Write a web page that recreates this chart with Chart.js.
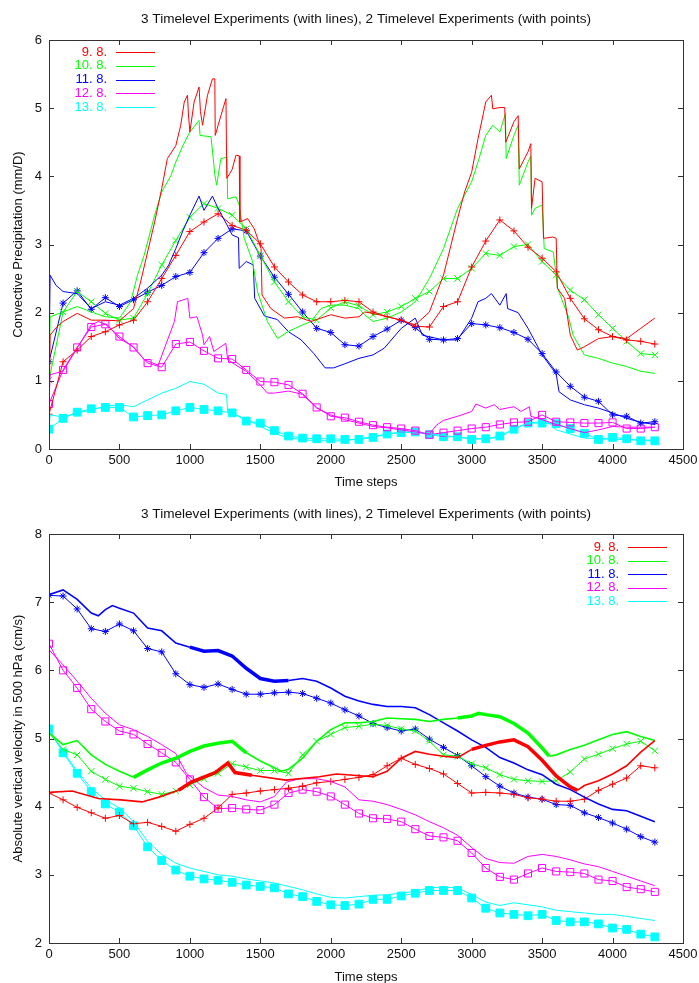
<!DOCTYPE html>
<html>
<head>
<meta charset="utf-8">
<script src="https://cdn.jsdelivr.net/npm/chart.js@4.4.1/dist/chart.umd.min.js"></script>
<style>
html,body{margin:0;padding:0;background:#fff;}
canvas{display:block;}
</style>
</head>
<body>
<canvas id="precip_chart" width="699" height="491"></canvas>
<canvas id="omega_chart" width="699" height="492"></canvas>
<script>
// ---- labels / ticks
var seriesLabels = ['9. 8.', '10. 8.', '11. 8.', '12. 8.', '13. 8.'];
var seriesColors = ['#ff0000', '#00ff00', '#0000ff', '#ff00ff', '#00ffff'];
var xTicks = [0, 500, 1000, 1500, 2000, 2500, 3000, 3500, 4000, 4500];
var yTicksTop = [0, 1, 2, 3, 4, 5, 6];
var yTicksBottom = [2, 3, 4, 5, 6, 7, 8];

// time steps of the 2 timelevel runs (one marker every 100 steps)
var steps = [0,100,200,300,400,500,600,700,800,900,1000,1100,1200,1300,1400,1500,1600,1700,1800,1900,2000,2100,
             2200,2300,2400,2500,2600,2700,2800,2900,3000,3100,3200,3300,3400,3500,3600,3700,3800,3900,4000,4100,4200,4300];

// ---- TOP: convective precipitation, 3 timelevel runs [step, value]
var red3Top = [[0,0.51],[8,1.67],[50,1.78],[100,1.87],[200,1.99],[300,1.89],[400,1.89],[500,1.88],[600,2.06],[650,2.45],[700,2.89],[750,3.33],[800,3.82],[840,4.26],[900,4.45],[935,4.75],[960,5.09],[983,5.19],[990,4.9],[1000,4.65],[1030,5.09],[1065,5.31],[1075,4.95],[1090,4.75],[1125,5.19],[1160,5.43],[1177,5.43],[1180,4.6],[1220,4.89],[1256,5.14],[1262,3.97],[1300,4.1],[1327,4.31],[1350,4.3],[1355,3.33],[1410,3.38],[1457,3.23],[1505,2.94],[1512,2.26],[1575,2.06],[1670,1.92],[1765,1.94],[1860,1.87],[2000,1.97],[2100,1.92],[2200,1.94],[2240,2.01],[2300,1.99],[2400,1.94],[2500,1.89],[2600,1.82],[2700,2.01],[2800,2.55],[2900,3.38],[2950,3.77],[3000,4.06],[3045,4.55],[3100,5.09],[3140,5.19],[3150,4.99],[3200,5.01],[3235,5.01],[3242,4.5],[3300,4.8],[3330,4.89],[3338,4.11],[3400,4.36],[3420,4.48],[3425,3.53],[3450,3.97],[3500,3.92],[3510,3.09],[3575,3.11],[3600,3.09],[3608,2.36],[3660,2.21],[3700,1.67],[3750,1.45],[3800,1.5],[3900,1.62],[4000,1.65],[4100,1.62],[4200,1.77],[4300,1.92]];
var green3Top = [[0,1.01],[8,1.94],[100,2.01],[200,2.09],[300,2.01],[400,1.94],[500,1.92],[580,2.16],[628,2.55],[675,2.84],[750,3.43],[800,3.77],[865,4.01],[900,4.21],[950,4.45],[1000,4.65],[1065,4.82],[1072,4.6],[1150,4.58],[1178,4.01],[1190,3.87],[1220,4.26],[1263,4.28],[1268,3.67],[1327,3.7],[1350,3.58],[1386,3.09],[1445,2.75],[1480,2.31],[1550,1.87],[1623,1.62],[1695,1.72],[1800,1.82],[1860,1.87],[1930,2.06],[2000,2.11],[2100,2.11],[2200,2.06],[2240,1.97],[2300,1.87],[2400,1.92],[2500,2.01],[2600,2.16],[2700,2.5],[2800,2.94],[2900,3.53],[3000,3.92],[3045,4.21],[3100,4.6],[3150,4.75],[3200,4.65],[3240,4.92],[3245,4.26],[3300,4.6],[3330,4.75],[3338,3.87],[3400,4.21],[3420,4.3],[3425,3.43],[3450,3.53],[3500,3.58],[3515,2.94],[3580,2.89],[3610,2.36],[3690,1.92],[3720,1.67],[3800,1.38],[3900,1.33],[4000,1.26],[4100,1.21],[4200,1.14],[4300,1.11]];
var blue3Top = [[0,1.28],[8,2.55],[50,2.4],[100,2.31],[200,2.28],[300,2.06],[400,2.16],[500,2.11],[600,2.21],[700,2.36],[800,2.55],[850,2.7],[900,2.94],[950,3.2],[1000,3.43],[1065,3.71],[1100,3.5],[1160,3.71],[1200,3.53],[1260,3.3],[1300,3.14],[1345,3.1],[1350,2.65],[1400,2.75],[1450,2.7],[1460,2.21],[1530,1.95],[1620,1.9],[1700,1.72],[1790,1.6],[1880,1.4],[1960,1.19],[2020,1.19],[2100,1.25],[2200,1.33],[2300,1.38],[2380,1.48],[2500,1.77],[2600,1.92],[2650,1.67],[2800,1.6],[2900,1.6],[3000,1.92],[3045,2.16],[3100,2.21],[3140,2.28],[3200,2.11],[3245,2.28],[3255,2.06],[3330,2.0],[3400,1.77],[3500,1.38],[3600,1.1],[3620,0.84],[3700,0.72],[3800,0.65],[3900,0.6],[4000,0.53],[4100,0.45],[4200,0.39],[4300,0.36]];
var magenta3Top = [[0,0.66],[8,1.09],[100,1.14],[200,1.48],[300,1.82],[350,1.87],[415,1.82],[500,1.62],[600,1.5],[675,1.31],[775,1.23],[820,1.48],[890,1.87],[912,2.16],[985,2.21],[1000,1.92],[1050,1.94],[1090,1.67],[1100,1.53],[1140,1.65],[1170,1.43],[1255,1.55],[1268,1.31],[1350,1.2],[1400,1.14],[1500,0.94],[1550,0.82],[1600,0.82],[1700,0.85],[1800,0.8],[1900,0.6],[2000,0.5],[2100,0.43],[2200,0.38],[2300,0.33],[2400,0.31],[2500,0.28],[2600,0.25],[2700,0.22],[2750,0.35],[2800,0.42],[2900,0.48],[3000,0.55],[3030,0.66],[3100,0.6],[3160,0.65],[3200,0.58],[3300,0.62],[3350,0.55],[3410,0.62],[3420,0.48],[3500,0.43],[3600,0.36],[3700,0.3],[3800,0.24],[3900,0.28],[4000,0.33],[4100,0.32],[4200,0.32],[4300,0.32]];
var cyan3Top = [[0,0.29],[8,0.5],[100,0.47],[200,0.53],[300,0.57],[400,0.63],[500,0.65],[600,0.62],[700,0.72],[800,0.82],[900,0.89],[1000,0.99],[1100,0.95],[1200,0.82],[1260,0.8],[1268,0.55],[1400,0.44],[1500,0.33],[1600,0.23],[1700,0.16],[1800,0.14],[1900,0.12],[2000,0.12],[2100,0.12],[2200,0.15],[2300,0.18],[2400,0.22],[2500,0.25],[2600,0.25],[2700,0.22],[2800,0.2],[2900,0.17],[3000,0.16],[3100,0.15],[3200,0.17],[3300,0.3],[3400,0.38],[3500,0.4],[3550,0.38],[3600,0.28],[3700,0.22],[3800,0.16],[3900,0.15],[4000,0.14],[4100,0.14],[4200,0.13],[4300,0.13]];

// ---- TOP: 2 timelevel runs (values at steps[])
var red2Top = [0.51,1.28,1.45,1.65,1.72,1.82,1.89,2.16,2.50,2.84,3.19,3.33,3.45,3.28,3.21,3.01,2.67,2.45,2.26,2.16,2.16,2.18,2.16,2.01,1.94,1.89,1.80,1.79,2.09,2.16,2.67,3.05,3.36,3.20,2.96,2.80,2.60,2.21,1.91,1.75,1.65,1.60,1.58,1.54];
var green2Top = [1.01,2.01,2.31,2.16,1.99,1.89,1.92,2.28,2.70,3.06,3.40,3.60,3.53,3.43,3.23,2.84,2.45,2.16,1.94,1.89,2.07,2.16,2.10,1.97,2.01,2.09,2.21,2.31,2.50,2.50,2.65,2.87,2.84,2.97,3.00,2.75,2.55,2.33,2.19,1.97,1.77,1.58,1.40,1.38];
var blue2Top = [1.28,2.14,2.32,2.05,2.22,2.09,2.19,2.30,2.40,2.53,2.59,2.88,3.09,3.23,3.20,2.83,2.52,2.27,2.01,1.77,1.71,1.53,1.51,1.65,1.76,1.89,1.78,1.61,1.60,1.62,1.84,1.82,1.78,1.71,1.61,1.40,1.13,0.92,0.76,0.70,0.50,0.48,0.38,0.40];
var magenta2Top = [0.66,1.16,1.49,1.79,1.83,1.65,1.49,1.26,1.20,1.54,1.57,1.44,1.33,1.32,1.16,0.99,0.98,0.94,0.81,0.61,0.48,0.46,0.40,0.35,0.32,0.30,0.27,0.21,0.24,0.27,0.30,0.32,0.36,0.39,0.40,0.50,0.40,0.39,0.38,0.38,0.39,0.30,0.30,0.32];
var cyan2Top = [0.29,0.45,0.54,0.59,0.61,0.61,0.47,0.49,0.50,0.56,0.61,0.58,0.56,0.53,0.41,0.38,0.27,0.19,0.16,0.15,0.15,0.14,0.14,0.17,0.22,0.24,0.25,0.21,0.18,0.18,0.14,0.15,0.19,0.29,0.38,0.38,0.37,0.30,0.23,0.14,0.17,0.15,0.12,0.12];

// ---- BOTTOM: absolute vertical velocity, 3 timelevel runs [step, value]
var red3Bot = [[0,4.21],[165,4.23],[350,4.12],[510,4.1],[660,4.07],[780,4.14],[920,4.24],[1010,4.36],[1180,4.5],[1270,4.64],[1320,4.5],[1440,4.46],[1680,4.39],[1920,4.44],[2040,4.48],[2160,4.46],[2300,4.44],[2400,4.52],[2500,4.71],[2600,4.81],[2700,4.77],[2800,4.74],[2900,4.72],[3000,4.84],[3100,4.9],[3200,4.95],[3300,4.98],[3400,4.88],[3500,4.68],[3600,4.45],[3700,4.29],[3750,4.24],[3800,4.31],[3900,4.38],[4000,4.48],[4100,4.6],[4200,4.8],[4300,4.97]];
var green3Bot = [[0,5.08],[100,4.91],[200,4.97],[300,4.76],[400,4.62],[500,4.52],[600,4.43],[700,4.54],[800,4.64],[900,4.71],[1000,4.81],[1100,4.89],[1200,4.93],[1300,4.96],[1400,4.79],[1500,4.67],[1600,4.57],[1650,4.52],[1700,4.55],[1800,4.71],[1900,4.96],[2000,5.13],[2100,5.23],[2200,5.23],[2300,5.25],[2400,5.3],[2500,5.29],[2600,5.28],[2700,5.25],[2800,5.28],[2900,5.3],[3000,5.33],[3050,5.37],[3100,5.35],[3200,5.32],[3300,5.22],[3400,5.08],[3500,4.86],[3550,4.74],[3600,4.76],[3700,4.84],[3800,4.9],[3900,4.98],[4000,5.06],[4100,5.1],[4200,5.03],[4300,4.97]];
var blue3Bot = [[0,7.11],[100,7.18],[200,7.04],[300,6.84],[350,6.8],[400,6.89],[450,6.95],[500,6.91],[600,6.84],[700,6.62],[800,6.58],[900,6.4],[1000,6.34],[1100,6.28],[1200,6.29],[1300,6.21],[1400,6.03],[1500,5.88],[1600,5.84],[1700,5.85],[1800,5.88],[1900,5.84],[2000,5.74],[2100,5.62],[2200,5.55],[2300,5.5],[2400,5.47],[2500,5.47],[2600,5.45],[2700,5.35],[2800,5.23],[2900,5.11],[3000,4.98],[3100,4.87],[3200,4.72],[3300,4.64],[3400,4.54],[3500,4.47],[3600,4.33],[3700,4.25],[3800,4.14],[3900,4.04],[4000,3.96],[4100,3.94],[4200,3.86],[4300,3.78]];
var magenta3Bot = [[0,6.3],[100,6.08],[200,5.84],[300,5.59],[400,5.37],[500,5.2],[600,5.13],[700,5.03],[800,4.91],[900,4.78],[975,4.49],[1100,4.28],[1200,4.17],[1300,4.15],[1400,4.1],[1500,4.07],[1600,4.15],[1685,4.36],[1780,4.41],[1900,4.41],[2000,4.37],[2100,4.29],[2200,4.1],[2300,4.08],[2400,4.03],[2500,3.96],[2600,3.88],[2700,3.78],[2800,3.69],[2900,3.58],[3000,3.4],[3100,3.24],[3200,3.18],[3300,3.17],[3400,3.27],[3500,3.3],[3600,3.27],[3700,3.22],[3800,3.16],[3900,3.12],[4000,3.05],[4100,2.98],[4200,2.91],[4300,2.84]];
var cyan3Bot = [[0,5.14],[100,4.81],[200,4.52],[300,4.27],[400,4.1],[500,3.98],[600,3.78],[700,3.49],[800,3.3],[900,3.17],[1000,3.1],[1100,3.05],[1200,3.0],[1300,2.98],[1400,2.94],[1500,2.91],[1600,2.88],[1700,2.83],[1800,2.78],[1900,2.72],[2000,2.67],[2100,2.66],[2200,2.68],[2300,2.7],[2400,2.71],[2500,2.73],[2600,2.76],[2700,2.81],[2800,2.82],[2900,2.81],[3000,2.71],[3100,2.6],[3200,2.55],[3300,2.59],[3400,2.56],[3500,2.53],[3600,2.48],[3700,2.46],[3800,2.44],[3900,2.42],[4000,2.42],[4100,2.39],[4200,2.36],[4300,2.33]];

// ---- BOTTOM: 2 timelevel runs (values at steps[])
var red2Bot = [4.20,4.10,3.99,3.91,3.83,3.87,3.75,3.77,3.71,3.64,3.74,3.83,3.98,4.18,4.20,4.23,4.25,4.27,4.30,4.35,4.37,4.40,4.43,4.47,4.60,4.71,4.62,4.56,4.48,4.34,4.20,4.21,4.20,4.18,4.13,4.11,4.08,4.08,4.11,4.24,4.33,4.42,4.60,4.57];
var green2Bot = [5.08,4.84,4.76,4.52,4.40,4.30,4.27,4.22,4.18,4.23,4.32,4.41,4.49,4.63,4.58,4.53,4.53,4.49,4.76,4.96,5.06,5.16,5.18,5.21,5.19,5.14,5.11,4.96,4.76,4.74,4.63,4.57,4.47,4.40,4.38,4.37,4.38,4.51,4.70,4.77,4.85,4.92,4.96,4.82];
var blue2Bot = [7.10,7.09,6.90,6.61,6.57,6.68,6.58,6.32,6.27,5.95,5.79,5.75,5.80,5.72,5.65,5.65,5.67,5.68,5.66,5.59,5.52,5.42,5.33,5.22,5.16,5.11,5.14,4.99,4.87,4.75,4.60,4.44,4.30,4.20,4.14,4.11,4.03,4.02,3.91,3.84,3.76,3.67,3.56,3.48];
var magenta2Bot = [6.39,6.00,5.74,5.43,5.25,5.11,5.06,4.92,4.79,4.65,4.40,4.14,3.97,3.98,3.96,3.95,4.03,4.20,4.25,4.22,4.15,4.03,3.90,3.83,3.82,3.78,3.67,3.57,3.55,3.50,3.32,3.10,2.97,2.93,3.02,3.10,3.05,3.04,3.02,2.93,2.91,2.82,2.79,2.75];
var cyan2Bot = [5.14,4.79,4.49,4.22,4.04,3.92,3.72,3.41,3.21,3.07,2.98,2.94,2.92,2.89,2.85,2.83,2.81,2.72,2.68,2.61,2.56,2.55,2.57,2.64,2.64,2.69,2.73,2.77,2.77,2.77,2.66,2.51,2.44,2.42,2.40,2.42,2.33,2.31,2.31,2.28,2.22,2.20,2.13,2.09];

// noisy (thick) stretches of the 3 timelevel lines in the lower plot
var fuzzBot = [[[850,1350],[2950,3750]], [[600,1400],[2900,3550]], [[950,1650]], [], []];

Chart.defaults.font.family = "'Liberation Sans', Arial, Helvetica, sans-serif";
Chart.defaults.color = '#111';

function pairData(arr) {
    return arr.map(function (p) { return {x: p[0], y: p[1]}; });
}
function stepData(vals) {
    return steps.map(function (t, i) { return {x: t, y: vals[i]}; });
}

// frame + inward ticks on all four sides (gnuplot style)
var frameTicks = {
    id: 'frameTicks',
    afterDatasetsDraw: function (chart) {
        var ctx = chart.ctx, a = chart.chartArea, xs = chart.scales.x, ys = chart.scales.y;
        ctx.save();
        ctx.strokeStyle = '#333';
        ctx.lineWidth = 1;
        ctx.beginPath();
        xs.ticks.forEach(function (t) {
            var px = Math.round(xs.getPixelForValue(t.value)) + 0.5;
            ctx.moveTo(px, a.bottom); ctx.lineTo(px, a.bottom - 5);
            ctx.moveTo(px, a.top); ctx.lineTo(px, a.top + 5);
        });
        ys.ticks.forEach(function (t) {
            var py = Math.round(ys.getPixelForValue(t.value)) + 0.5;
            ctx.moveTo(a.left, py); ctx.lineTo(a.left + 5, py);
            ctx.moveTo(a.right, py); ctx.lineTo(a.right - 5, py);
        });
        ctx.stroke();
        ctx.strokeRect(Math.round(a.left) + 0.5, Math.round(a.top) + 0.5,
            Math.round(a.right - a.left), Math.round(a.bottom - a.top));
        ctx.restore();
    }
};

// legend: coloured right aligned key text followed by a short line sample
var gnuLegend = {
    id: 'gnuLegend',
    afterDraw: function (chart, args, opts) {
        var ctx = chart.ctx, a = chart.chartArea;
        var textRight = opts.side === 'left' ? a.left + 58 : a.right - 64;
        ctx.save();
        ctx.font = '13px ' + Chart.defaults.font.family;
        ctx.textAlign = 'right';
        ctx.textBaseline = 'middle';
        seriesLabels.forEach(function (lab, i) {
            var y = a.top + opts.top + i * opts.gap;
            ctx.fillStyle = seriesColors[i];
            ctx.fillText(lab, textRight, y);
            ctx.strokeStyle = seriesColors[i];
            ctx.lineWidth = 1;
            ctx.beginPath();
            ctx.moveTo(textRight + 9, Math.round(y) + 0.5);
            ctx.lineTo(textRight + 48, Math.round(y) + 0.5);
            ctx.stroke();
        });
        ctx.restore();
    }
};

var gnuTitle = {
    id: 'gnuTitle',
    afterDraw: function (chart, args, opts) {
        var ctx = chart.ctx, a = chart.chartArea;
        ctx.save();
        ctx.font = '13.6px ' + Chart.defaults.font.family;
        ctx.fillStyle = '#111';
        ctx.textAlign = 'center';
        ctx.textBaseline = 'middle';
        ctx.fillText(opts.text, (a.left + a.right) / 2, opts.y);
        ctx.restore();
    }
};

var pointStyles = ['cross', 'crossRot', 'star', 'rect', 'rect'];
var pointSizes = [3.5, 4.5, 3.5, 5, 5.5];

function buildDatasets(lines, points, fuzz, baseWidth) {
    var sets = [];
    lines.forEach(function (arr, i) {
        var ranges = fuzz ? fuzz[i] : [];
        sets.push({
            data: pairData(arr),
            borderColor: seriesColors[i],
            borderWidth: baseWidth[i],
            pointRadius: 0,
            tension: 0,
            segment: {
                borderWidth: function (c) {
                    var x = c.p0.parsed.x;
                    for (var k = 0; k < ranges.length; k++) {
                        if (x >= ranges[k][0] && x < ranges[k][1]) return 3.5;
                    }
                    return baseWidth[i];
                }
            }
        });
    });
    points.forEach(function (vals, i) {
        sets.push({
            data: stepData(vals),
            borderColor: seriesColors[i],
            borderWidth: 1,
            tension: 0,
            pointStyle: pointStyles[i],
            pointRadius: pointSizes[i],
            pointBorderColor: seriesColors[i],
            pointBorderWidth: 1,
            pointBackgroundColor: i === 4 ? seriesColors[i] : 'rgba(0,0,0,0)'
        });
    });
    return sets;
}

function plainNumber(v) { return String(v); }

function makeChart(id, cfg) {
    var ctx = document.getElementById(id).getContext('2d');
    return new Chart(ctx, {
        type: 'line',
        data: {datasets: cfg.datasets},
        options: {
            responsive: false,
            animation: false,
            devicePixelRatio: 1,
            layout: {padding: {top: cfg.padTop, right: 16, left: 0, bottom: 0}},
            plugins: {
                legend: {display: false},
                tooltip: {enabled: false},
                gnuTitle: {text: '3 Timelevel Experiments (with lines), 2 Timelevel Experiments (with points)', y: cfg.titleY},
                gnuLegend: cfg.legend
            },
            scales: {
                x: {
                    type: 'linear',
                    min: 0, max: 4500,
                    afterBuildTicks: function (s) { s.ticks = xTicks.map(function (v) { return {value: v}; }); },
                    afterFit: function (s) { s.height = cfg.xHeight; s.paddingLeft = 0; s.paddingRight = 0; },
                    grid: {display: false, drawTicks: false},
                    border: {display: false},
                    ticks: {padding: 4, maxRotation: 0, autoSkip: false, color: '#111', font: {size: 13}, callback: plainNumber},
                    title: {display: true, text: 'Time steps', color: '#111', font: {size: 13}, padding: {top: 0, bottom: cfg.xTitlePad}}
                },
                y: {
                    min: cfg.yMin, max: cfg.yMax,
                    afterBuildTicks: function (s) { s.ticks = cfg.yTicks.map(function (v) { return {value: v}; }); },
                    afterFit: function (s) { s.width = 49; s.paddingTop = 0; s.paddingBottom = 0; },
                    grid: {display: false, drawTicks: false},
                    border: {display: false},
                    ticks: {padding: 7, color: '#111', font: {size: 13}, callback: plainNumber},
                    title: {display: true, text: cfg.yTitle, color: '#111', font: {size: 13}, padding: {top: 11, bottom: 0}}
                }
            }
        },
        plugins: [frameTicks, gnuLegend, gnuTitle]
    });
}

var precipChart = makeChart('precip_chart', {
    datasets: buildDatasets([red3Top, green3Top, blue3Top, magenta3Top, cyan3Top],
        [red2Top, green2Top, blue2Top, magenta2Top, cyan2Top], null, [1, 1, 1, 1, 1]),
    padTop: 40, xHeight: 42, xTitlePad: 1, titleY: 19,
    yMin: 0, yMax: 6, yTicks: yTicksTop,
    yTitle: 'Convective Precipitation (mm/D)',
    legend: {side: 'left', top: 12, gap: 13.8}
});

var omegaChart = makeChart('omega_chart', {
    datasets: buildDatasets([red3Bot, green3Bot, blue3Bot, magenta3Bot, cyan3Bot],
        [red2Bot, green2Bot, blue2Bot, magenta2Bot, cyan2Bot], fuzzBot, [1.6, 1.6, 1.6, 1, 1]),
    padTop: 43, xHeight: 40, xTitlePad: -2, titleY: 23,
    yMin: 2, yMax: 8, yTicks: yTicksBottom,
    yTitle: 'Absolute vertical velocity in 500 hPa (cm/s)',
    legend: {side: 'right', top: 13, gap: 13.5}
});
</script>
</body>
</html>
